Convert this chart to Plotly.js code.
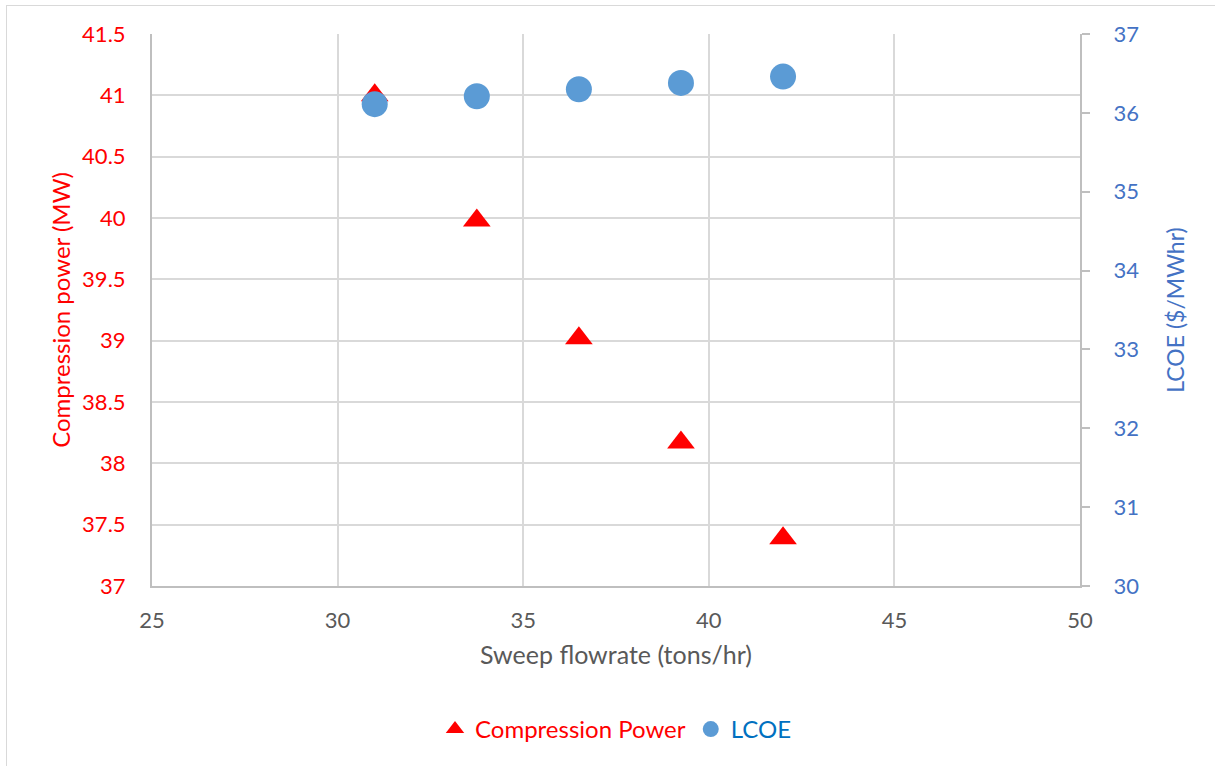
<!DOCTYPE html>
<html>
<head>
<meta charset="utf-8">
<script src="https://cdn.plot.ly/plotly-3.0.1.min.js"></script>
<style>
  html, body { margin: 0; padding: 0; background: #ffffff; }
  #wrap { position: relative; width: 1215px; height: 766px; overflow: hidden; }
  #chart { width: 1215px; height: 766px; }
  #frame {
    position: absolute; left: 6px; top: 5px; right: -10px; bottom: -10px;
    border-left: 1.5px solid #d9d9d9; border-top: 1.5px solid #d9d9d9;
    pointer-events: none;
  }
</style>
</head>
<body>
<div id="wrap">
  <div id="chart"></div>
  <div id="frame"></div>
</div>
<script>
// Sweep flowrate (tons/hr)
const sweepFlow = [31, 33.75, 36.5, 39.25, 42];
// Compression power (MW)
const compressionPower = [41.0, 39.98, 39.02, 38.17, 37.39];
// Levelised cost of electricity ($/MWhr)
const lcoe = [36.11, 36.21, 36.30, 36.38, 36.46];

const seriesNames = ['Compression Power', 'LCOE'];
const seriesColors = ['#ff0000', '#5b9bd5'];
const legendTextColors = ['#ff0000', '#0070c0'];

const FONT = 'Lato, "Liberation Sans", sans-serif';

const traces = [
  {
    x: sweepFlow,
    y: compressionPower,
    name: '<span style="color:' + legendTextColors[0] + '">' + seriesNames[0] + '</span>',
    type: 'scatter',
    mode: 'markers',
    yaxis: 'y',
    marker: { symbol: 'triangle-up', size: 24, color: seriesColors[0] }
  },
  {
    x: sweepFlow,
    y: lcoe,
    name: '<span style="color:' + legendTextColors[1] + '">' + seriesNames[1] + '</span>',
    type: 'scatter',
    mode: 'markers',
    yaxis: 'y2',
    marker: { symbol: 'circle', size: 26, color: seriesColors[1] }
  }
];

const layout = {
  width: 1215,
  height: 766,
  margin: { l: 152, r: 135, t: 34, b: 180 },
  paper_bgcolor: '#ffffff',
  plot_bgcolor: '#ffffff',
  font: { family: FONT, size: 22, color: '#595959' },
  showlegend: true,
  legend: {
    orientation: 'h',
    x: 0.5, xanchor: 'center',
    y: -0.26, yanchor: 'middle',
    font: { family: FONT, size: 24 },
    itemclick: false
  },
  xaxis: {
    range: [25, 50],
    dtick: 5,
    tick0: 25,
    showgrid: true,
    gridcolor: '#d9d9d9',
    gridwidth: 2,
    showline: true,
    linecolor: '#bfbfbf',
    linewidth: 2,
    zeroline: false,
    ticks: '',
    ticklabelstandoff: 14,
    tickfont: { family: FONT, size: 22, color: '#595959' },
    title: { text: 'Sweep flowrate (tons/hr)', font: { family: FONT, size: 25, color: '#595959' }, standoff: 14 }
  },
  yaxis: {
    range: [37, 41.5],
    dtick: 0.5,
    tick0: 37,
    showgrid: true,
    gridcolor: '#d9d9d9',
    gridwidth: 2,
    showline: true,
    linecolor: '#bfbfbf',
    linewidth: 2,
    zeroline: false,
    ticks: '',
    ticklabelstandoff: 20,
    tickfont: { family: FONT, size: 22, color: '#ff0000' },
    title: { text: 'Compression power (MW)', font: { family: FONT, size: 24, color: '#ff0000' }, standoff: 5 }
  },
  yaxis2: {
    range: [30, 37],
    dtick: 1,
    tick0: 30,
    overlaying: 'y',
    side: 'right',
    showgrid: false,
    showline: true,
    linecolor: '#bfbfbf',
    linewidth: 2,
    zeroline: false,
    ticks: 'outside',
    ticklen: 8,
    tickwidth: 2,
    tickcolor: '#bfbfbf',
    ticklabelstandoff: 19,
    tickfont: { family: FONT, size: 22, color: '#4472c4' },
    title: { text: 'LCOE ($/MWhr)', font: { family: FONT, size: 23, color: '#4472c4' }, standoff: 30 }
  }
};

Plotly.newPlot('chart', traces, layout, { displayModeBar: false, staticPlot: true });
</script>
</body>
</html>
